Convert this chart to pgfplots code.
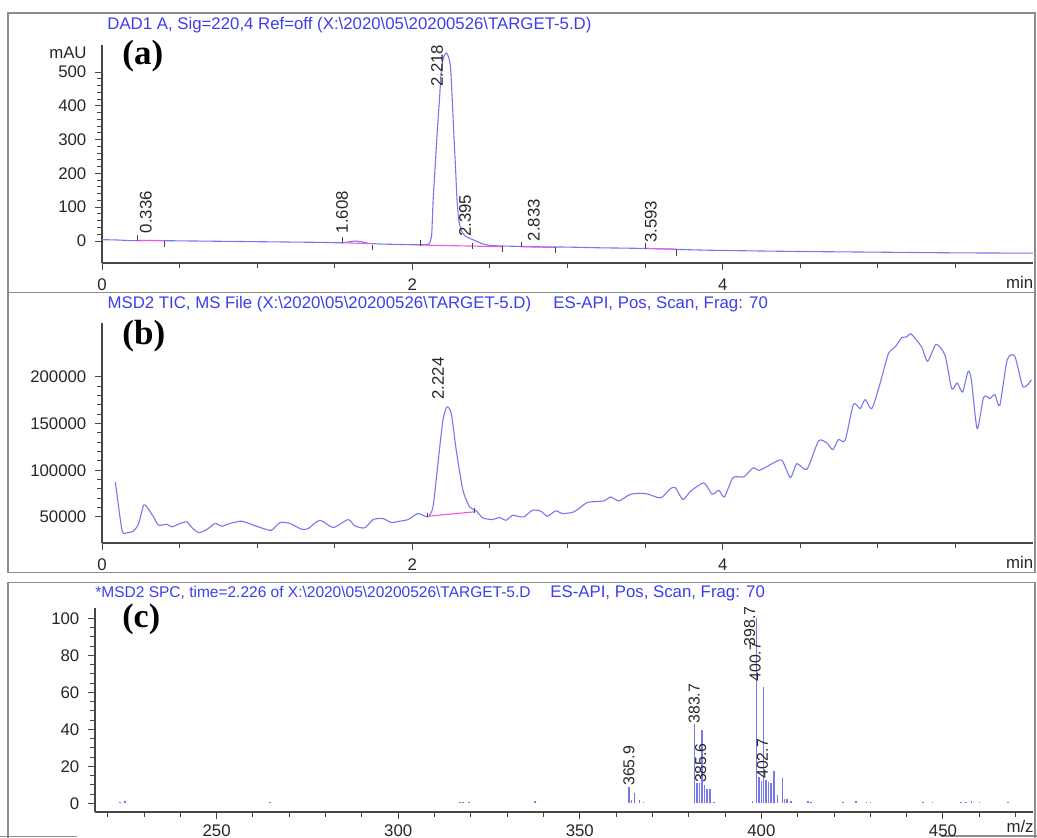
\documentclass[border=0pt]{standalone}
\usepackage{fontspec}
\setmainfont{Liberation Sans}
\newfontfamily\timesf{Liberation Serif}
\usepackage{pgfplots}
\pgfplotsset{compat=1.18}
\definecolor{ttl}{RGB}{60,60,240}
\definecolor{trace}{RGB}{120,120,238}
\definecolor{bline}{RGB}{235,90,225}
\definecolor{axc}{RGB}{70,70,70}
\definecolor{frm}{RGB}{140,140,140}
\newcommand{\tf}{\fontsize{8.4}{10}\selectfont}
\pgfplotsset{chem/.style={scale only axis, anchor=south west, axis lines=left,
  axis line style={-, axc, line width=0.6pt}, tick style={axc, line width=0.5pt},
  tick align=outside, major tick length=3.5pt, minor tick length=2.5pt,
  tick label style={font=\tf, text=black!85},
  yticklabel style={xshift=-0.8pt}, xticklabel style={yshift=-1pt},
  /pgf/number format/assume math mode=true, clip=false}}
\begin{document}
\begin{tikzpicture}
\path[use as bounding box] (0,0) rectangle (518.5pt,419pt);
% frames
\draw[frm, line width=0.7pt] (4pt,412.5pt) rectangle (517.5pt,272.65pt);
\draw[frm, line width=0.7pt] (4pt,272.65pt) rectangle (517.5pt,132.65pt);
\draw[frm, line width=0.7pt] (4pt,-1pt) -- (4pt,127.85pt) -- (517.5pt,127.85pt) -- (517.5pt,-1pt);
\draw[frm, line width=0.7pt] (0pt,0.65pt) -- (38.5pt,0.65pt);
\draw[frm, line width=0.7pt] (470.5pt,1pt) -- (518.5pt,1pt);
% titles
\node[anchor=base west, inner sep=0, text=ttl, font=\tf] at (53.5pt,404.2pt) {DAD1 A, Sig=220,4 Ref=off (X:\textbackslash 2020\textbackslash 05\textbackslash 20200526\textbackslash TARGET-5.D)};
\node[anchor=base west, inner sep=0, text=ttl, font=\tf] at (53.6pt,264.8pt) {MSD2 TIC, MS File (X:\textbackslash 2020\textbackslash 05\textbackslash 20200526\textbackslash TARGET-5.D)};
\node[anchor=base west, inner sep=0, text=ttl, font=\tf] at (276.5pt,264.8pt) {ES-API, Pos, Scan, Frag: 70};
\node[anchor=base west, inner sep=0, text=ttl, font=\fontsize{7.75}{9}\selectfont] at (47.5pt,120pt) {*MSD2 SPC, time=2.226 of X:\textbackslash 2020\textbackslash 05\textbackslash 20200526\textbackslash TARGET-5.D};
\node[anchor=base west, inner sep=0, text=ttl, font=\tf] at (275pt,120pt) {ES-API, Pos, Scan, Frag: 70};
% panel letters
\node[anchor=base west, inner sep=0, font=\timesf\bfseries\fontsize{17.5}{20}\selectfont] at (61pt,386.75pt) {(a)};
\node[anchor=base west, inner sep=0, font=\timesf\bfseries\fontsize{17.5}{20}\selectfont] at (61pt,246.75pt) {(b)};
\node[anchor=base west, inner sep=0, font=\timesf\bfseries\fontsize{17}{20}\selectfont] at (61pt,105pt) {(c)};
% unit labels
\node[anchor=east, inner sep=0, font=\tf, text=black!85] at (43.5pt,392.5pt) {mAU};
\node[anchor=base east, inner sep=0, font=\tf, text=black!85] at (516.8pt,274.5pt) {min};
\node[anchor=base east, inner sep=0, font=\tf, text=black!85] at (516.8pt,134.5pt) {min};
\node[anchor=base east, inner sep=0, font=\tf, text=black!85] at (517pt,2.6pt) {m/z};

% ---------------- (a)
\begin{axis}[chem, at={(51pt,287.5pt)}, width=465.5pt, height=109pt,
  xmin=0, xmax=6, ymin=-65, ymax=580,
  xtick={0,2,4}, minor xtick={0.5,1,1.5,2.5,3,3.5,4.5,5,5.5},
  ytick={0,100,200,300,400,500}, minor y tick num=4]
\addplot[trace, line width=0.55pt, smooth, tension=0.3] coordinates {
(0,4) (0.1,3) (0.2,1) (0.3,2) (0.4,1) (0.6,0) (0.8,-1) (1.0,-2) (1.2,-3) (1.4,-4)
(1.5,-5) (1.55,-5) (1.6,-2) (1.63,0) (1.67,-2) (1.72,-7) (1.8,-9) (1.9,-10) (2.0,-11)
(2.05,-11) (2.1,-10) (2.113,-5) (2.125,20) (2.134,121) (2.147,220) (2.160,320)
(2.175,420) (2.188,515) (2.205,548) (2.220,556) (2.233,545) (2.246,515) (2.257,420)
(2.267,320) (2.278,220) (2.288,121) (2.300,60) (2.316,30) (2.34,15) (2.37,8) (2.40,2)
(2.45,-8) (2.5,-13) (2.6,-15) (2.8,-17) (3.0,-18) (3.2,-20) (3.5,-22) (3.8,-26)
(4.0,-28) (4.5,-31) (5.0,-33) (5.5,-35) (6.0,-36)};
\addplot[bline, line width=0.55pt, unbounded coords=jump] coordinates {
(0.23,1.5) (0.40,1) (0.4,nan) (1.55,-5) (1.74,-8) (1.74,nan) (2.055,-12) (2.39,-15) (2.58,-17)
(2.58,nan) (2.70,-17) (2.92,-19) (2.92,nan) (3.50,-22) (3.70,-24)};
\addplot[axc, line width=0.45pt, unbounded coords=jump] coordinates {
(0.23,18) (0.23,1) (0.23,nan) (0.40,1) (0.40,-17) (0.40,nan)
(1.55,11) (1.55,-7) (1.55,nan) (1.74,-12) (1.74,-27) (1.74,nan)
(2.055,3) (2.055,-14) (2.055,nan) (2.39,-7) (2.39,-25) (2.39,nan) (2.58,-16) (2.58,-32) (2.58,nan)
(2.70,-2) (2.70,-19) (2.70,nan) (2.92,-19) (2.92,-36) (2.92,nan)
(3.50,-5) (3.50,-23) (3.50,nan) (3.70,-25) (3.70,-45)};
\begin{scope}[every node/.style={rotate=90, anchor=base west, inner sep=0, font=\tf, text=black!85}]
\node at (axis cs:0.32,22) {0.336};
\node at (axis cs:1.585,22) {1.608};
\node at (axis cs:2.196,455) {2.218};
\node at (axis cs:2.377,11) {2.395};
\node at (axis cs:2.82,-2) {2.833};
\node at (axis cs:3.575,-7) {3.593};
\end{scope}
\end{axis}

% ---------------- (b)
\begin{axis}[chem, at={(51pt,147.5pt)}, width=465.5pt, height=110pt,
  xmin=0, xmax=6, ymin=22000, ymax=257900,
  xtick={0,2,4}, minor xtick={0.5,1,1.5,2.5,3,3.5,4.5,5,5.5},
  ytick={50000,100000,150000,200000}, minor y tick num=4,
  scaled y ticks=false, yticklabel style={/pgf/number format/.cd, fixed, 1000 sep={}}]
\addplot[trace, line width=0.55pt, smooth, tension=0.4] coordinates {
(0.086,87500) (0.129,35700) (0.161,32900) (0.204,35000) (0.236,42900) (0.268,62500)
(0.289,60700) (0.332,50000) (0.364,41100) (0.418,42100) (0.45,39300) (0.504,42900)
(0.547,44600) (0.579,38600) (0.622,33200) (0.675,36400) (0.729,42900) (0.772,40000)
(0.825,42900) (0.9,45400) (0.975,41100) (1.04,37500) (1.093,35700) (1.147,43900)
(1.211,42900) (1.286,36800) (1.329,37500) (1.404,46400) (1.49,38600) (1.586,47100)
(1.629,40400) (1.693,38200) (1.747,47100) (1.811,48200) (1.865,43900) (1.919,45400)
(1.972,47100) (2.036,53600) (2.1,50000) (2.133,60700) (2.165,107100) (2.197,153600)
(2.223,167800) (2.251,160700) (2.283,121400) (2.326,78600) (2.369,60700) (2.412,56400)
(2.454,48900) (2.518,47100) (2.561,49300) (2.604,46400) (2.647,51800) (2.677,50700)
(2.72,50000) (2.774,57100) (2.828,56100) (2.87,50700) (2.924,56400) (2.967,53600)
(3.042,55400) (3.128,65400) (3.235,67100) (3.278,71400) (3.332,67100) (3.407,74300)
(3.504,75000) (3.6,70400) (3.664,80400) (3.696,81100) (3.744,68600) (3.793,77500)
(3.879,86400) (3.932,74300) (3.975,78600) (4.011,71400) (4.067,92100) (4.136,92900)
(4.196,102500) (4.238,100000) (4.328,107900) (4.382,110700) (4.436,92100) (4.478,107100)
(4.543,101100) (4.618,131400) (4.671,129300) (4.71,122100) (4.746,132900) (4.789,132100)
(4.843,170700) (4.886,166100) (4.918,175700) (4.961,166100) (5.014,192900) (5.068,225000)
(5.111,232100) (5.154,242100) (5.186,242900) (5.212,246400) (5.25,239300) (5.283,232100)
(5.321,216800) (5.375,235000) (5.433,223200) (5.476,187500) (5.511,193600) (5.546,183900)
(5.582,206100) (5.603,196400) (5.64,144600) (5.679,176800) (5.7,179300) (5.722,176800)
(5.754,181100) (5.786,169600) (5.833,217900) (5.882,222500) (5.936,189300) (5.99,197100)};
\addplot[bline, line width=0.55pt] coordinates {(2.1,50700) (2.4,55400)};
\addplot[axc, line width=0.45pt, unbounded coords=jump] coordinates {
(2.1,54600) (2.1,49500) (2.1,nan) (2.4,59400) (2.4,54300)};
\node[rotate=90, anchor=base west, inner sep=0, font=\tf, text=black!85] at (axis cs:2.203,175300) {2.224};
\end{axis}

% ---------------- (c)
\begin{axis}[chem, at={(47.5pt,13pt)}, width=469pt, height=102pt,
  xmin=216.5, xmax=474.8, ymin=-4.7, ymax=105.6,
  xticklabel style={yshift=1.6pt},
  xtick={250,300,350,400,450}, minor xtick={220,230,240,260,270,280,290,310,320,330,340,360,370,380,390,410,420,430,440,460,470},
  ytick={0,20,40,60,80,100}, minor y tick num=3]
\addplot[ycomb, trace, line width=0.75pt] coordinates {
(223.4,0.6) (224.8,1) (264.7,0.8) (317.0,0.8) (317.8,0.8) (319.5,0.8) (337.6,1.5)
(363.6,9) (364.3,2) (365.0,5.5) (366.4,2) (367.5,0.8)
(381.6,43) (382.3,11) (383.0,11) (383.6,39.5) (384.4,10) (385.0,8) (385.8,8) (386.9,0.8)
(397.5,1) (398.7,100) (399.3,14) (400.0,12) (400.6,63) (401.3,12.6) (401.9,11.7)
(402.6,10.8) (403.5,17.5) (404.5,4.5) (405.8,13.5) (406.4,2.5) (407.1,2.5) (408.1,1.2)
(412.8,1.5) (413.7,0.8) (422.5,0.8) (426.1,1.5) (428.9,0.8) (430.1,0.8) (444.5,0.8)
(447.1,0.8) (454.9,0.8) (456.4,0.8) (457.8,1) (460.1,0.8) (467.9,0.8)};
\begin{scope}[every node/.style={rotate=90, anchor=west, inner sep=0, font=\fontsize{7.9}{9}\selectfont, text=black!85}]
\node at (axis cs:363.5,9.3) {365.9};
\node at (axis cs:381.5,43) {383.7};
\node at (axis cs:383.3,10.8) {385.6};
\node at (axis cs:396.8,84.7) {398.7};
\node at (axis cs:398.3,65.7) {400.7};
\node at (axis cs:400.3,13.1) {402.7};
\end{scope}
\end{axis}
\end{tikzpicture}
\end{document}
